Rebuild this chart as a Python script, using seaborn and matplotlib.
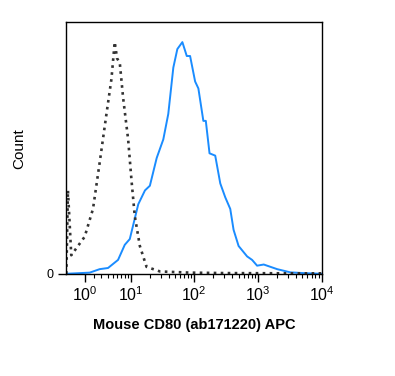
import numpy as np
import pandas as pd
import matplotlib
matplotlib.use('Agg')
import matplotlib.pyplot as plt
import matplotlib.ticker as mticker
import seaborn as sns

# isotype control (dotted) - fluorescence value vs % of max
iso_x = [-0.84, -0.68, -0.35, 0.98, 1.90, 2.76, 3.80, 4.70, 5.38, 5.91, 6.58,
         7.48, 9.06, 10.3, 11.6, 14.0, 17.9, 29.2, 86.7, 300, 3000, 10000]
iso_y = [0, 36, 8, 16, 28, 48, 69, 84, 100, 93, 91,
         76, 58, 40, 25, 12, 3, 1, 0.5, 0.3, 0.2, 0.2]

# CD80 stained sample (blue)
cd80_x = [-0.84, 1.52, 2.76, 4.07, 6.15, 7.97, 9.64, 13.2, 16.9, 20.2, 25.9,
          32.9, 39.4, 47.3, 54.7, 65.6, 76.9, 86.7, 104, 117, 140, 153, 175,
          215, 258, 309, 370, 417, 500, 680, 814, 976, 1240, 2015, 3262, 5287, 10000]
cd80_y = [0, 0.5, 2, 2.5, 6, 12.5, 15, 30, 36, 38, 50,
          58, 69, 89, 97, 100, 94, 94, 83, 80, 66, 66, 52,
          51, 39, 33, 28, 19, 12, 7.5, 6, 3.5, 4, 2, 0.6, 0.3, 0]

xtick_vals = [1, 10, 100, 1000, 10000]
xtick_labels = ['$10^0$', '$10^1$', '$10^2$', '$10^3$', '$10^4$']

sns.set_style('ticks')
plt.rcParams['font.family'] = ['Liberation Sans', 'DejaVu Sans']
plt.rcParams['mathtext.fontset'] = 'custom'
plt.rcParams['mathtext.rm'] = 'Liberation Sans'
plt.rcParams['mathtext.it'] = 'Liberation Sans:italic'
plt.rcParams['mathtext.bf'] = 'Liberation Sans:bold'
plt.rcParams['text.color'] = 'black'
plt.rcParams['axes.labelcolor'] = 'black'
plt.rcParams['xtick.color'] = 'black'
plt.rcParams['ytick.color'] = 'black'

iso = pd.DataFrame({'x': iso_x, 'y': iso_y})
cd80 = pd.DataFrame({'x': cd80_x, 'y': cd80_y})

fig = plt.figure(figsize=(3.95, 3.76), dpi=100)
ax = fig.add_axes([0.168, 0.270, 0.646, 0.671])

sns.lineplot(data=cd80, x='x', y='y', ax=ax, color='#1a8cff', lw=1.4, sort=False)
sns.lineplot(data=iso, x='x', y='y', ax=ax, color='#333333', lw=1.9,
             linestyle=':', sort=False)

ax.set_xscale('asinh', linear_width=2.7)
ax.set_xlim(-0.84, 10000)
ax.set_ylim(-0.3, 108.6)

ax.xaxis.set_major_locator(mticker.FixedLocator(xtick_vals))
ax.xaxis.set_major_formatter(mticker.FixedFormatter(xtick_labels))
minors = [m * 10 ** k for k in range(4) for m in range(2, 10)]
ax.xaxis.set_minor_locator(mticker.FixedLocator(minors))
ax.xaxis.set_minor_formatter(mticker.NullFormatter())
ax.tick_params(axis='x', which='major', length=6, width=1, labelsize=11.5, pad=2)
ax.tick_params(axis='x', which='minor', length=3, width=0.8)

ax.set_yticks([0])
ax.set_yticklabels(['0'])
ax.tick_params(axis='y', length=6, width=1, labelsize=9)

for s in ax.spines.values():
    s.set_visible(True)
    s.set_color('black')
    s.set_linewidth(1)

ax.set_xlabel('Mouse CD80 (ab171220) APC', fontsize=10.5, fontweight='bold', labelpad=10)
ax.set_ylabel('Count', fontsize=11, labelpad=14)

fig.savefig('out.png', dpi=100)
